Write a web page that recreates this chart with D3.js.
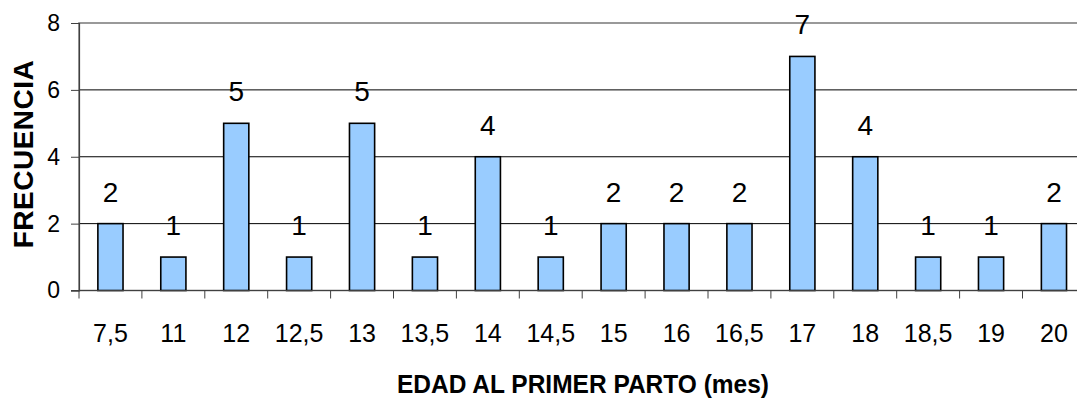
<!DOCTYPE html>
<html>
<head>
<meta charset="utf-8">
<script src="https://cdn.jsdelivr.net/npm/d3@7"></script>
<style>
  html, body { margin: 0; padding: 0; background: #fff; }
  svg { display: block; font-family: "Liberation Sans", Arial, sans-serif; }
</style>
</head>
<body>
<svg id="chart" width="1077" height="401"></svg>
<script>
// Age at first calving (months) and how many animals fall in each class
const categories = ["7,5", "11", "12", "12,5", "13", "13,5", "14", "14,5", "15", "16", "16,5", "17", "18", "18,5", "19", "20"];
const frequencies = [2, 1, 5, 1, 5, 1, 4, 1, 2, 2, 2, 7, 4, 1, 1, 2];
const yTicks = [0, 2, 4, 6, 8];
const xTitle = "EDAD AL PRIMER PARTO (mes)";
const yTitle = "FRECUENCIA";

const svg = d3.select("#chart");

const plot = { left: 79, top: 23, bottom: 290.5, step: 62.9 };
const n = categories.length;

const x = d3.scaleBand()
  .domain(categories)
  .range([plot.left, plot.left + n * plot.step])
  .paddingInner(0.6)
  .paddingOuter(0.3);

const y = d3.scaleLinear()
  .domain([0, 8])
  .range([plot.bottom, plot.top]);

const right = plot.left + n * plot.step;

// plot area frame
svg.append("rect")
  .attr("x", plot.left)
  .attr("y", y(8))
  .attr("width", right - plot.left)
  .attr("height", y(0) - y(8))
  .attr("fill", "none")
  .attr("stroke", "#808080")
  .attr("stroke-width", 1.6);

// horizontal gridlines
svg.append("g")
  .selectAll("line")
  .data(yTicks.filter(t => t > 0 && t < 8))
  .join("line")
  .attr("x1", plot.left)
  .attr("x2", right)
  .attr("y1", d => y(d))
  .attr("y2", d => y(d))
  .attr("stroke", "#000")
  .attr("stroke-width", 1);

// bars
svg.append("g")
  .selectAll("rect")
  .data(frequencies)
  .join("rect")
  .attr("x", (d, i) => x(categories[i]))
  .attr("y", d => y(d))
  .attr("width", x.bandwidth())
  .attr("height", d => y(0) - y(d))
  .attr("fill", "#99ccff")
  .attr("stroke", "#000")
  .attr("stroke-width", 1.6);

// value labels above bars
svg.append("g")
  .selectAll("text")
  .data(frequencies)
  .join("text")
  .attr("x", (d, i) => x(categories[i]) + x.bandwidth() / 2)
  .attr("y", d => y(d) - 22)
  .attr("text-anchor", "middle")
  .attr("font-size", 28)
  .attr("fill", "#000")
  .text(d => d);

// y axis
const yAxis = svg.append("g")
  .attr("transform", `translate(${plot.left},0)`)
  .call(d3.axisLeft(y).tickValues(yTicks).tickSize(8).tickPadding(11).tickFormat(d3.format("d")));
yAxis.select(".domain").attr("stroke", "#404040").attr("stroke-width", 1.2);
yAxis.selectAll(".tick line").attr("stroke", "#404040");
yAxis.selectAll(".tick text")
  .attr("font-size", 23)
  .attr("font-family", "'Liberation Sans', Arial, sans-serif")
  .attr("fill", "#000");

// x axis line with tick marks between categories
const xAxis = svg.append("g");
xAxis.append("line")
  .attr("x1", plot.left - 8)
  .attr("x2", right)
  .attr("y1", y(0))
  .attr("y2", y(0))
  .attr("stroke", "#404040")
  .attr("stroke-width", 1.2);
const boundaries = categories.map(c => x(c) + x.bandwidth() / 2 - x.step() / 2);
xAxis.selectAll("line.tick")
  .data(boundaries)
  .join("line")
  .attr("class", "tick")
  .attr("x1", d => d)
  .attr("x2", d => d)
  .attr("y1", y(0))
  .attr("y2", y(0) + 8)
  .attr("stroke", "#404040")
  .attr("stroke-width", 1);
xAxis.selectAll("text")
  .data(categories)
  .join("text")
  .attr("x", d => x(d) + x.bandwidth() / 2)
  .attr("y", 342)
  .attr("text-anchor", "middle")
  .attr("font-size", 25)
  .attr("fill", "#000")
  .text(d => d);

// axis titles
svg.append("text")
  .attr("x", 583)
  .attr("y", 393)
  .attr("text-anchor", "middle")
  .attr("font-size", 25)
  .attr("font-weight", "bold")
  .attr("textLength", 372)
  .attr("lengthAdjust", "spacingAndGlyphs")
  .attr("fill", "#000")
  .text(xTitle);

svg.append("text")
  .attr("transform", "translate(32.5,154) rotate(-90)")
  .attr("text-anchor", "middle")
  .attr("font-size", 28)
  .attr("font-weight", "bold")
  .attr("letter-spacing", 0.5)
  .attr("fill", "#000")
  .text(yTitle);
</script>
</body>
</html>
